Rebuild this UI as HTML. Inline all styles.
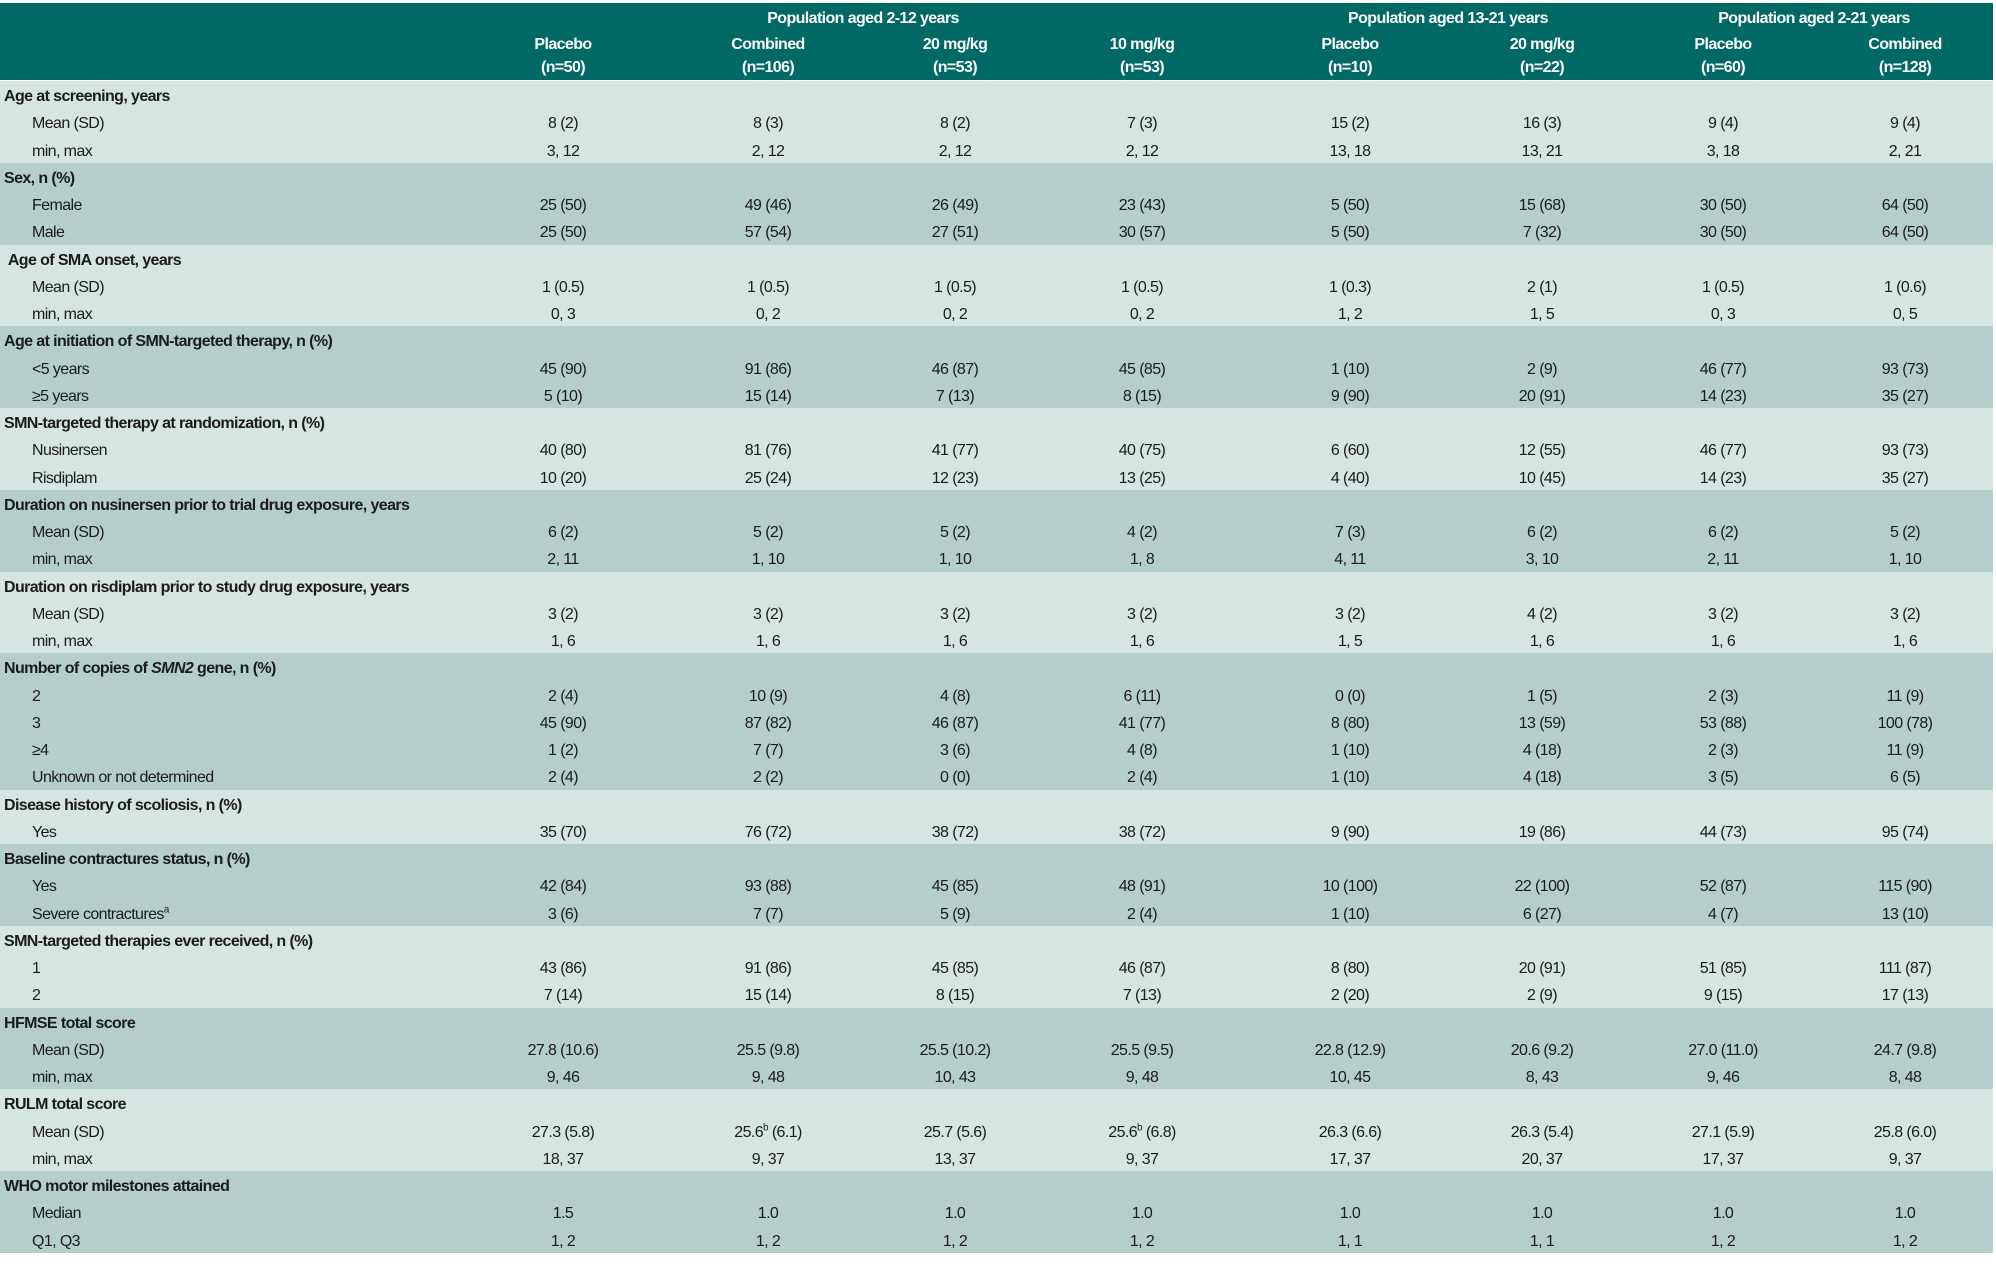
<!DOCTYPE html>
<html><head><meta charset="utf-8"><style>
html,body{margin:0;padding:0;background:#fff;width:1996px;height:1264px;overflow:hidden}
body{font-family:"Liberation Sans",sans-serif;font-size:16px;color:#1b1b1b;letter-spacing:-0.6px}
#hdr{position:absolute;left:0;top:3px;width:1993px;height:77px;background:#006865;color:#fff;font-weight:bold}
#hdr div{position:absolute;text-align:center;white-space:nowrap}
#body{position:absolute;left:0;top:81px;width:1993px}
.r{position:relative;height:27.26px;line-height:31px;white-space:nowrap}
.L{background:#d6e4e2}.D{background:#b4cecb}
.r span{position:absolute;top:0;text-align:center}
.r span.l{left:4px;text-align:left}
.r.s span.l{left:32px}
.h span.l{font-weight:bold}
.c1{left:470px;width:186px}.c2{left:656px;width:224px}.c3{left:880px;width:150px}.c4{left:1030px;width:224px}
.c5{left:1254px;width:192px}.c6{left:1446px;width:192px}.c7{left:1638px;width:170px}.c8{left:1808px;width:194px}
sup{font-size:10px;line-height:0}
.n{line-height:28px}
</style></head><body>
<div id="hdr">
<div style="left:663px;width:400px;top:7px">Population aged 2-12 years</div>
<div style="left:1248px;width:400px;top:7px">Population aged 13-21 years</div>
<div style="left:1614px;width:400px;top:7px">Population aged 2-21 years</div>
<div style="left:470px;width:186px;top:33px">Placebo<br><span class="n">(n=50)</span></div>
<div style="left:656px;width:224px;top:33px">Combined<br><span class="n">(n=106)</span></div>
<div style="left:880px;width:150px;top:33px">20 mg/kg<br><span class="n">(n=53)</span></div>
<div style="left:1030px;width:224px;top:33px">10 mg/kg<br><span class="n">(n=53)</span></div>
<div style="left:1254px;width:192px;top:33px">Placebo<br><span class="n">(n=10)</span></div>
<div style="left:1446px;width:192px;top:33px">20 mg/kg<br><span class="n">(n=22)</span></div>
<div style="left:1638px;width:170px;top:33px">Placebo<br><span class="n">(n=60)</span></div>
<div style="left:1808px;width:194px;top:33px">Combined<br><span class="n">(n=128)</span></div>
</div>
<div id="body">
<div class="r h L"><span class="l">Age at screening, years</span></div>
<div class="r s L"><span class="l">Mean (SD)</span><span class="c1">8 (2)</span><span class="c2">8 (3)</span><span class="c3">8 (2)</span><span class="c4">7 (3)</span><span class="c5">15 (2)</span><span class="c6">16 (3)</span><span class="c7">9 (4)</span><span class="c8">9 (4)</span></div>
<div class="r s L"><span class="l">min, max</span><span class="c1">3, 12</span><span class="c2">2, 12</span><span class="c3">2, 12</span><span class="c4">2, 12</span><span class="c5">13, 18</span><span class="c6">13, 21</span><span class="c7">3, 18</span><span class="c8">2, 21</span></div>
<div class="r h D"><span class="l">Sex, n (%)</span></div>
<div class="r s D"><span class="l">Female</span><span class="c1">25 (50)</span><span class="c2">49 (46)</span><span class="c3">26 (49)</span><span class="c4">23 (43)</span><span class="c5">5 (50)</span><span class="c6">15 (68)</span><span class="c7">30 (50)</span><span class="c8">64 (50)</span></div>
<div class="r s D"><span class="l">Male</span><span class="c1">25 (50)</span><span class="c2">57 (54)</span><span class="c3">27 (51)</span><span class="c4">30 (57)</span><span class="c5">5 (50)</span><span class="c6">7 (32)</span><span class="c7">30 (50)</span><span class="c8">64 (50)</span></div>
<div class="r h L"><span class="l">&nbsp;Age of SMA onset, years</span></div>
<div class="r s L"><span class="l">Mean (SD)</span><span class="c1">1 (0.5)</span><span class="c2">1 (0.5)</span><span class="c3">1 (0.5)</span><span class="c4">1 (0.5)</span><span class="c5">1 (0.3)</span><span class="c6">2 (1)</span><span class="c7">1 (0.5)</span><span class="c8">1 (0.6)</span></div>
<div class="r s L"><span class="l">min, max</span><span class="c1">0, 3</span><span class="c2">0, 2</span><span class="c3">0, 2</span><span class="c4">0, 2</span><span class="c5">1, 2</span><span class="c6">1, 5</span><span class="c7">0, 3</span><span class="c8">0, 5</span></div>
<div class="r h D"><span class="l">Age at initiation of SMN-targeted therapy, n (%)</span></div>
<div class="r s D"><span class="l">&lt;5 years</span><span class="c1">45 (90)</span><span class="c2">91 (86)</span><span class="c3">46 (87)</span><span class="c4">45 (85)</span><span class="c5">1 (10)</span><span class="c6">2 (9)</span><span class="c7">46 (77)</span><span class="c8">93 (73)</span></div>
<div class="r s D"><span class="l">≥5 years</span><span class="c1">5 (10)</span><span class="c2">15 (14)</span><span class="c3">7 (13)</span><span class="c4">8 (15)</span><span class="c5">9 (90)</span><span class="c6">20 (91)</span><span class="c7">14 (23)</span><span class="c8">35 (27)</span></div>
<div class="r h L"><span class="l">SMN-targeted therapy at randomization, n (%)</span></div>
<div class="r s L"><span class="l">Nusinersen</span><span class="c1">40 (80)</span><span class="c2">81 (76)</span><span class="c3">41 (77)</span><span class="c4">40 (75)</span><span class="c5">6 (60)</span><span class="c6">12 (55)</span><span class="c7">46 (77)</span><span class="c8">93 (73)</span></div>
<div class="r s L"><span class="l">Risdiplam</span><span class="c1">10 (20)</span><span class="c2">25 (24)</span><span class="c3">12 (23)</span><span class="c4">13 (25)</span><span class="c5">4 (40)</span><span class="c6">10 (45)</span><span class="c7">14 (23)</span><span class="c8">35 (27)</span></div>
<div class="r h D"><span class="l">Duration on nusinersen prior to trial drug exposure, years</span></div>
<div class="r s D"><span class="l">Mean (SD)</span><span class="c1">6 (2)</span><span class="c2">5 (2)</span><span class="c3">5 (2)</span><span class="c4">4 (2)</span><span class="c5">7 (3)</span><span class="c6">6 (2)</span><span class="c7">6 (2)</span><span class="c8">5 (2)</span></div>
<div class="r s D"><span class="l">min, max</span><span class="c1">2, 11</span><span class="c2">1, 10</span><span class="c3">1, 10</span><span class="c4">1, 8</span><span class="c5">4, 11</span><span class="c6">3, 10</span><span class="c7">2, 11</span><span class="c8">1, 10</span></div>
<div class="r h L"><span class="l">Duration on risdiplam prior to study drug exposure, years</span></div>
<div class="r s L"><span class="l">Mean (SD)</span><span class="c1">3 (2)</span><span class="c2">3 (2)</span><span class="c3">3 (2)</span><span class="c4">3 (2)</span><span class="c5">3 (2)</span><span class="c6">4 (2)</span><span class="c7">3 (2)</span><span class="c8">3 (2)</span></div>
<div class="r s L"><span class="l">min, max</span><span class="c1">1, 6</span><span class="c2">1, 6</span><span class="c3">1, 6</span><span class="c4">1, 6</span><span class="c5">1, 5</span><span class="c6">1, 6</span><span class="c7">1, 6</span><span class="c8">1, 6</span></div>
<div class="r h D"><span class="l">Number of copies of <i>SMN2</i> gene, n (%)</span></div>
<div class="r s D"><span class="l">2</span><span class="c1">2 (4)</span><span class="c2">10 (9)</span><span class="c3">4 (8)</span><span class="c4">6 (11)</span><span class="c5">0 (0)</span><span class="c6">1 (5)</span><span class="c7">2 (3)</span><span class="c8">11 (9)</span></div>
<div class="r s D"><span class="l">3</span><span class="c1">45 (90)</span><span class="c2">87 (82)</span><span class="c3">46 (87)</span><span class="c4">41 (77)</span><span class="c5">8 (80)</span><span class="c6">13 (59)</span><span class="c7">53 (88)</span><span class="c8">100 (78)</span></div>
<div class="r s D"><span class="l">≥4</span><span class="c1">1 (2)</span><span class="c2">7 (7)</span><span class="c3">3 (6)</span><span class="c4">4 (8)</span><span class="c5">1 (10)</span><span class="c6">4 (18)</span><span class="c7">2 (3)</span><span class="c8">11 (9)</span></div>
<div class="r s D"><span class="l">Unknown or not determined</span><span class="c1">2 (4)</span><span class="c2">2 (2)</span><span class="c3">0 (0)</span><span class="c4">2 (4)</span><span class="c5">1 (10)</span><span class="c6">4 (18)</span><span class="c7">3 (5)</span><span class="c8">6 (5)</span></div>
<div class="r h L"><span class="l">Disease history of scoliosis, n (%)</span></div>
<div class="r s L"><span class="l">Yes</span><span class="c1">35 (70)</span><span class="c2">76 (72)</span><span class="c3">38 (72)</span><span class="c4">38 (72)</span><span class="c5">9 (90)</span><span class="c6">19 (86)</span><span class="c7">44 (73)</span><span class="c8">95 (74)</span></div>
<div class="r h D"><span class="l">Baseline contractures status, n (%)</span></div>
<div class="r s D"><span class="l">Yes</span><span class="c1">42 (84)</span><span class="c2">93 (88)</span><span class="c3">45 (85)</span><span class="c4">48 (91)</span><span class="c5">10 (100)</span><span class="c6">22 (100)</span><span class="c7">52 (87)</span><span class="c8">115 (90)</span></div>
<div class="r s D"><span class="l">Severe contractures<sup>a</sup></span><span class="c1">3 (6)</span><span class="c2">7 (7)</span><span class="c3">5 (9)</span><span class="c4">2 (4)</span><span class="c5">1 (10)</span><span class="c6">6 (27)</span><span class="c7">4 (7)</span><span class="c8">13 (10)</span></div>
<div class="r h L"><span class="l">SMN-targeted therapies ever received, n (%)</span></div>
<div class="r s L"><span class="l">1</span><span class="c1">43 (86)</span><span class="c2">91 (86)</span><span class="c3">45 (85)</span><span class="c4">46 (87)</span><span class="c5">8 (80)</span><span class="c6">20 (91)</span><span class="c7">51 (85)</span><span class="c8">111 (87)</span></div>
<div class="r s L"><span class="l">2</span><span class="c1">7 (14)</span><span class="c2">15 (14)</span><span class="c3">8 (15)</span><span class="c4">7 (13)</span><span class="c5">2 (20)</span><span class="c6">2 (9)</span><span class="c7">9 (15)</span><span class="c8">17 (13)</span></div>
<div class="r h D"><span class="l">HFMSE total score</span></div>
<div class="r s D"><span class="l">Mean (SD)</span><span class="c1">27.8 (10.6)</span><span class="c2">25.5 (9.8)</span><span class="c3">25.5 (10.2)</span><span class="c4">25.5 (9.5)</span><span class="c5">22.8 (12.9)</span><span class="c6">20.6 (9.2)</span><span class="c7">27.0 (11.0)</span><span class="c8">24.7 (9.8)</span></div>
<div class="r s D"><span class="l">min, max</span><span class="c1">9, 46</span><span class="c2">9, 48</span><span class="c3">10, 43</span><span class="c4">9, 48</span><span class="c5">10, 45</span><span class="c6">8, 43</span><span class="c7">9, 46</span><span class="c8">8, 48</span></div>
<div class="r h L"><span class="l">RULM total score</span></div>
<div class="r s L"><span class="l">Mean (SD)</span><span class="c1">27.3 (5.8)</span><span class="c2">25.6<sup>b</sup> (6.1)</span><span class="c3">25.7 (5.6)</span><span class="c4">25.6<sup>b</sup> (6.8)</span><span class="c5">26.3 (6.6)</span><span class="c6">26.3 (5.4)</span><span class="c7">27.1 (5.9)</span><span class="c8">25.8 (6.0)</span></div>
<div class="r s L"><span class="l">min, max</span><span class="c1">18, 37</span><span class="c2">9, 37</span><span class="c3">13, 37</span><span class="c4">9, 37</span><span class="c5">17, 37</span><span class="c6">20, 37</span><span class="c7">17, 37</span><span class="c8">9, 37</span></div>
<div class="r h D"><span class="l">WHO motor milestones attained</span></div>
<div class="r s D"><span class="l">Median</span><span class="c1">1.5</span><span class="c2">1.0</span><span class="c3">1.0</span><span class="c4">1.0</span><span class="c5">1.0</span><span class="c6">1.0</span><span class="c7">1.0</span><span class="c8">1.0</span></div>
<div class="r s D"><span class="l">Q1, Q3</span><span class="c1">1, 2</span><span class="c2">1, 2</span><span class="c3">1, 2</span><span class="c4">1, 2</span><span class="c5">1, 1</span><span class="c6">1, 1</span><span class="c7">1, 2</span><span class="c8">1, 2</span></div>
</div>
</body></html>
